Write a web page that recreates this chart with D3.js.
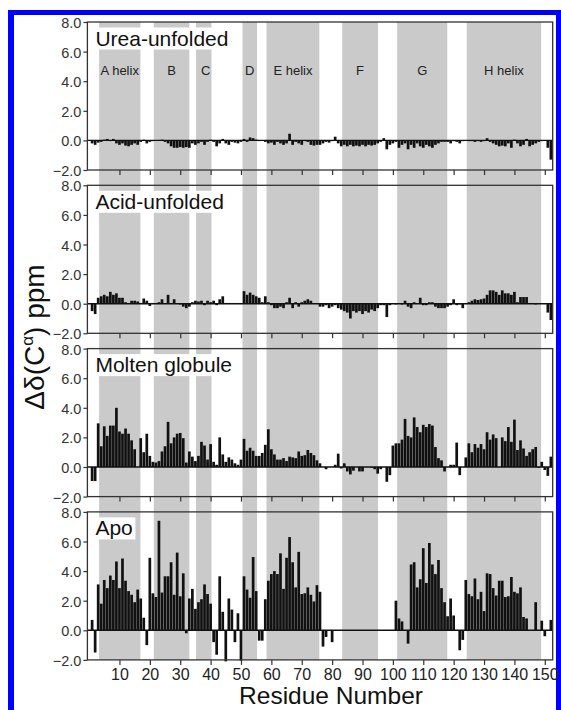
<!DOCTYPE html>
<html>
<head>
<meta charset="utf-8">
<script src="https://cdn.jsdelivr.net/npm/d3@7"></script>
<style>
html,body{margin:0;padding:0;background:#fff;}
svg{display:block;}
text{font-family:"Liberation Sans",Arial,Helvetica,sans-serif;}
</style>
</head>
<body>
<script>
// ---------- data ----------
const residues = d3.range(1, 153);
const panelNames = ["Urea-unfolded", "Acid-unfolded", "Molten globule", "Apo"];

const urea = [
 -0.2,-0.3,-0.15,-0.1,0.05,0.1,-0.05,0.1,-0.2,-0.3,
 -0.2,-0.35,-0.4,-0.3,-0.2,-0.3,-0.1,0.05,-0.2,-0.1,
 -0.05,0,0,0.05,-0.1,-0.2,-0.4,-0.5,-0.5,-0.45,
 -0.5,-0.45,-0.5,-0.2,-0.3,-0.2,-0.1,-0.3,-0.1,0.05,
 -0.1,-0.4,-0.2,0.1,-0.2,-0.3,-0.1,-0.15,-0.2,-0.1,
 0.1,-0.1,0.2,0.15,0.05,-0.05,0,-0.1,-0.2,-0.15,
 -0.3,-0.1,-0.2,-0.3,-0.2,0.45,-0.3,-0.1,-0.2,-0.3,
 -0.05,-0.1,-0.3,-0.35,-0.3,-0.3,-0.2,-0.1,-0.15,-0.05,
 0.25,-0.2,-0.4,-0.3,-0.4,-0.3,-0.4,-0.35,-0.4,-0.3,
 -0.4,-0.3,-0.35,-0.3,-0.2,-0.1,0.15,-0.6,-0.3,-0.2,
 -0.1,-0.5,-0.3,-0.2,-0.6,-0.3,-0.5,-0.2,-0.4,-0.5,
 -0.3,-0.4,-0.5,-0.3,-0.2,-0.1,-0.1,-0.1,-0.2,-0.05,
 -0.1,-0.2,-0.05,0,-0.05,-0.05,-0.1,-0.05,-0.1,-0.05,
 0.15,-0.1,-0.2,-0.3,-0.4,-0.35,-0.4,-0.2,-0.5,0.05,
 -0.2,-0.4,-0.3,0.1,-0.4,-0.3,-0.2,-0.1,-0.05,0,
 -0.5,-1.3
];

const acid = [
 -0.5,-0.7,0.4,0.5,0.6,0.5,0.8,0.6,0.7,0.4,
 0.4,0.1,0.05,0.2,0.2,0.15,0.05,0.35,0.2,-0.15,
 0.05,0.05,0.1,0.3,0.05,0.6,0.05,0.3,0,-0.05,
 -0.2,-0.3,-0.2,0.1,0.2,0.15,0.2,-0.1,0.2,0.1,
 0.2,-0.1,0.3,0.5,0.05,0.05,0.05,0.05,0.05,0,
 0.85,0.6,0.75,0.6,0.5,0.4,0.1,0.5,0.1,-0.1,
 -0.3,-0.3,-0.2,-0.3,0.1,0.4,-0.3,0.1,-0.2,0.1,
 0.2,0.3,0.2,0.05,0,-0.2,-0.2,-0.1,-0.3,-0.2,
 -0.1,-0.3,-0.4,-0.5,-0.6,-1.0,-0.5,-0.6,-0.5,-0.7,
 -0.5,-0.6,-0.4,-0.5,-0.3,-0.1,-0.1,-0.9,-0.1,0,
 -0.05,0,-0.05,0.2,-0.2,-0.3,0.1,0,0.4,-0.1,
 -0.1,0.1,0.1,-0.2,-0.3,-0.3,-0.3,-0.2,-0.1,0.3,
 -0.1,-0.05,-0.3,0.05,0.1,0.2,0.3,0.25,0.3,0.35,
 0.6,0.9,0.9,0.8,0.6,0.9,0.7,0.7,0.6,0.8,
 0.1,0.45,0.45,0.45,0.05,0.05,-0.05,0,0,0,
 -0.6,-1.1
];

const molten = [
 -0.95,-0.95,2.95,1.4,2.75,2.1,2.8,2.8,4.0,2.4,
 2.25,2.6,2.25,1.8,1.2,0,1.95,1.0,2.25,0.75,
 0.35,0.3,0.4,1.05,1.4,3.05,1.6,2.0,2.25,2.3,
 1.95,0.3,1.05,0.7,0.4,0.75,1.7,1.45,0.5,1.55,
 0.35,0.15,2.0,0.85,0.35,0.65,0.5,0.25,0.15,0.5,
 1.9,1.1,1.3,1.1,0.75,0.75,0.95,1.5,2.55,1.2,
 0.85,0.5,0.5,0.6,0.4,0.7,0.65,0.6,1.05,0.75,
 0.8,1.15,0.95,0.8,0.45,0.25,0,-0.15,0,0,
 0.15,0.9,-0.1,0.25,-0.3,-0.5,-0.25,0,-0.3,-0.3,
 0,0,-0.05,-0.15,-0.45,-0.15,0,-1.0,-0.55,1.45,
 1.6,1.6,1.85,3.25,2.1,2.0,3.35,2.7,2.35,2.85,
 2.7,2.9,2.8,1.35,0.6,0.45,-0.3,0,0.15,0.15,
 1.65,-0.55,0,0.65,1.6,1.0,1.55,1.3,1.55,1.2,
 2.35,1.85,2.2,1.95,0,2.0,1.75,2.7,1.7,3.2,
 1.15,1.8,1.25,0.75,1.0,1.2,1.35,-0.05,0.35,-0.2,
 -0.6,0.7
];

const apo = [
 0.7,-1.5,3.1,1.8,3.4,2.85,3.7,3.4,4.65,2.85,
 4.85,3.35,2.65,2.4,1.9,2.75,2.15,0.85,-1.0,4.9,
 2.5,2.25,7.4,2.55,3.65,3.65,4.6,2.4,5.25,2.3,
 3.85,-0.2,2.15,2.8,1.45,1.9,2.1,3.1,2.45,1.8,
 -0.8,-1.65,3.65,1.25,-2.1,2.15,1.4,-0.8,1.15,-2.05,
 3.65,2.75,2.2,4.95,2.65,-0.7,-0.7,2.1,3.35,3.8,
 4.0,3.8,5.2,2.8,4.9,6.3,4.6,2.9,5.3,2.45,
 2.5,2.9,2.4,1.95,3.05,2.6,-1.1,-0.45,0,-0.8,
 0,0,0,0,0,0,0,0,0,0,
 0,0,0,0,0,0,0,0,0,0,
 2.0,0.8,0.6,0,-0.9,4.45,4.6,2.9,3.45,5.55,
 3.2,5.9,4.45,3.8,4.75,2.85,1.9,0.95,2.15,1.0,
 0,-1.35,-0.65,3.4,2.45,2.3,3.5,2.1,2.6,1.3,
 3.85,3.8,2.85,2.35,3.35,3.35,2.25,2.3,3.6,2.6,
 2.5,2.9,0.9,0.8,0,0,1.9,0,0.65,-0.4,
 0,0.7
];

const helixLabels = ["A helix", "B", "C", "D", "E helix", "F", "G", "H helix"];
const helixStart  = [3.3, 21.3, 35.2, 50.5, 58.4, 83.3, 101.4, 124.3];
const helixEnd    = [16.9, 33.0, 40.3, 55.3, 75.8, 95.1, 117.9, 148.8];

const yTicks = [-2, 0, 2, 4, 6, 8];
const xTicks = [10, 20, 30, 40, 50, 60, 70, 80, 90, 100, 110, 120, 130, 140, 150];

const series = [urea, acid, molten, apo];

// ---------- layout ----------
const W = 561, H = 710;
const L = 87.4, R = 552.7;
const top0 = 22, step = 163.3, PH = 148;
const font = '"Liberation Sans",Arial,Helvetica,sans-serif';

const svg = d3.select("body").append("svg").attr("width", W).attr("height", H);

// blue frame
svg.append("rect").attr("x", 8).attr("y", 10).attr("width", 6).attr("height", H - 10).attr("fill", "#0000ff");
svg.append("rect").attr("x", 8).attr("y", 10).attr("width", W - 8).attr("height", 5).attr("fill", "#0000ff");
svg.append("rect").attr("x", 556).attr("y", 10).attr("width", 5).attr("height", H - 10).attr("fill", "#0000ff");

const x = d3.scaleLinear().domain([-0.55, 152.6]).range([L, R]);
const tops = panelNames.map((d, i) => top0 + i * step);
const yScales = tops.map(t => d3.scaleLinear().domain([-2, 8]).range([t + PH, t]));

// gray helix bands spanning all panels
const bands = helixLabels.map((d, i) => ({label: d, s: helixStart[i], e: helixEnd[i]}));
svg.append("g").selectAll("rect").data(bands).join("rect")
  .attr("x", d => x(d.s)).attr("width", d => x(d.e) - x(d.s))
  .attr("y", tops[0]).attr("height", tops[3] + PH - tops[0])
  .attr("fill", "#cacaca");

const titleW = [138, 133, 141, 46];

panelNames.forEach((name, i) => {
  const y = yScales[i];
  const t = tops[i];
  const g = svg.append("g");

  // white box behind title
  g.append("rect").attr("x", L + 2).attr("y", t + 5.5).attr("width", titleW[i]).attr("height", 22)
    .attr("fill", "#fff");

  // bars
  const data = residues.map((r, k) => ({r: r, v: series[i][k]}));
  const bw = 2.7;
  g.append("g").selectAll("rect").data(data.filter(d => d.v !== 0)).join("rect")
    .attr("x", d => x(d.r) - bw / 2).attr("width", bw)
    .attr("y", d => y(Math.max(0, d.v)))
    .attr("height", d => Math.abs(y(d.v) - y(0)))
    .attr("fill", "#111");

  // zero line
  g.append("line").attr("x1", L).attr("x2", R).attr("y1", y(0)).attr("y2", y(0))
    .attr("stroke", "#111").attr("stroke-width", 1.4);

  // frame
  g.append("rect").attr("x", L).attr("y", t).attr("width", R - L).attr("height", PH)
    .attr("fill", "none").attr("stroke", "#333").attr("stroke-width", 1.3);

  // y axis
  const ya = d3.axisLeft(y).tickValues(yTicks).tickSize(4).tickPadding(2).tickFormat(d3.format(".1f"));
  const yg = g.append("g").attr("transform", `translate(${L},0)`).call(ya);
  yg.select(".domain").remove();
  yg.selectAll("line").attr("stroke", "#333").attr("stroke-width", 1.2);
  yg.selectAll("text").attr("font-size", 14.5).attr("font-family", font).attr("fill", "#333")
    .attr("dy", "0.38em");

  // x axis ticks (bottom)
  const xa = d3.axisBottom(x).tickValues(xTicks).tickSize(5).tickPadding(4)
    .tickFormat(i === 3 ? d3.format("d") : "");
  const xg = g.append("g").attr("transform", `translate(0,${t + PH})`).call(xa);
  xg.select(".domain").remove();
  xg.selectAll("line").attr("stroke", "#333").attr("stroke-width", 1.2);
  xg.selectAll("text").attr("font-size", 16).attr("font-family", font).attr("fill", "#222");

  // title
  g.append("text").attr("x", L + 8).attr("y", t + 23.5).attr("font-size", 21)
    .attr("fill", "#111").text(name);
});

// helix labels in top panel
svg.append("g").selectAll("text").data(bands).join("text")
  .attr("x", d => (x(d.s) + x(d.e)) / 2 + (d.label === "C" ? 2 : 0))
  .attr("y", tops[0] + 53)
  .attr("text-anchor", "middle").attr("font-size", 13).attr("fill", "#222")
  .text(d => d.label);

// axis titles
svg.append("text").attr("x", 331).attr("y", 704).attr("text-anchor", "middle")
  .attr("font-size", 24.5).attr("fill", "#111").text("Residue Number");

const yt = svg.append("text").attr("transform", "translate(44,337) rotate(-90)")
  .attr("text-anchor", "middle").attr("font-size", 28).attr("fill", "#111");
yt.append("tspan").text("Δδ(C");
yt.append("tspan").attr("font-size", 17).attr("dy", -11).text("α");
yt.append("tspan").attr("dy", 11).text(") ppm");
</script>
</body>
</html>
